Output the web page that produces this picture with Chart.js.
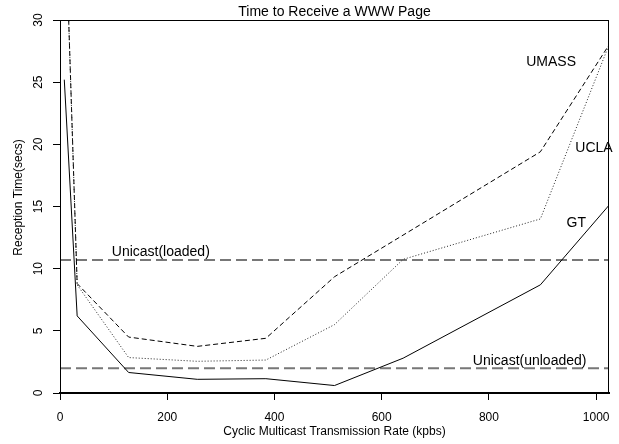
<!DOCTYPE html>
<html>
<head>
<meta charset="utf-8">
<script src="https://cdn.jsdelivr.net/npm/chart.js@4"></script>
<style>
html, body { margin: 0; padding: 0; background: white; }
canvas { display: block; }
</style>
</head>
<body>
<canvas id="c_www" width="619" height="444"></canvas>
<script>
// transmission rates (kbps) where each site was measured
const rates = [8, 32, 128, 256, 384, 512, 640, 896, 1024];
const gt = [25.2, 6.2, 1.65, 1.1, 1.15, 0.6, 2.8, 8.7, 15.1];
const ucla = [41, 8.7, 2.85, 2.55, 2.65, 5.5, 10.75, 14.0, 28.0];
const umass = [41, 8.8, 4.5, 3.75, 4.4, 9.35, null, 19.4, 28.0];
const unicastLoaded = 10.7;
const unicastUnloaded = 2.0;
const xTicks = [0, 200, 400, 600, 800, 1000];
const yTicks = [0, 5, 10, 15, 20, 25, 30];

// text written inside the plot, in data units
const notes = [
    { text: 'Unicast(loaded)', x: 188, y: 11.35 },
    { text: 'Unicast(unloaded)', x: 876, y: 2.6 },
    { text: 'UMASS', x: 916, y: 26.6 },
    { text: 'UCLA', x: 996, y: 19.7 },
    { text: 'GT', x: 963, y: 13.65 }
];

const FONT = '"Liberation Sans", Arial, sans-serif';

function pts(ys) {
    const out = [];
    rates.forEach((x, i) => { if (ys[i] !== null) out.push({ x: x, y: ys[i] }); });
    return out;
}
function flat(v) {
    return [{ x: 0, y: v }, { x: 1024, y: v }];
}

const extras = {
    id: 'extras',
    afterDraw(chart) {
        const ctx = chart.ctx;
        const a = chart.chartArea;
        const xs = chart.scales.x;
        const ys = chart.scales.y;
        ctx.save();
        ctx.strokeStyle = 'black';
        ctx.lineWidth = 1;
        ctx.strokeRect(a.left + 0.5, a.top + 0.5, a.right - a.left - 1, a.bottom - a.top);

        ctx.fillStyle = 'black';
        ctx.font = '14px ' + FONT;
        ctx.textAlign = 'center';
        ctx.textBaseline = 'alphabetic';
        ctx.fillText('Time to Receive a WWW Page', (a.left + a.right) / 2, a.top - 4);

        // y tick labels and axis title are turned like the original
        ctx.font = '12px ' + FONT;
        ctx.textBaseline = 'middle';
        yTicks.forEach(v => {
            ctx.save();
            ctx.translate(a.left - 21, ys.getPixelForValue(v));
            ctx.rotate(-Math.PI / 2);
            ctx.fillText(String(v), 0, 0);
            ctx.restore();
        });
        ctx.save();
        ctx.translate(19, (a.top + a.bottom) / 2 - 9);
        ctx.rotate(-Math.PI / 2);
        ctx.fillText('Reception Time(secs)', 0, 0);
        ctx.restore();

        ctx.font = '14px ' + FONT;
        notes.forEach(n => {
            ctx.fillText(n.text, xs.getPixelForValue(n.x), ys.getPixelForValue(n.y));
        });
        ctx.restore();
    }
};

var www_data = {
    type: 'line',
    data: {
        datasets: [
            {
                label: 'GT',
                data: pts(gt),
                borderWidth: 1,
                borderColor: 'black'
            },
            {
                label: 'UCLA',
                data: pts(ucla),
                borderWidth: 1,
                borderColor: '#222',
                borderDash: [1, 2]
            },
            {
                label: 'UMASS',
                data: pts(umass),
                borderWidth: 1,
                borderColor: 'black',
                borderDash: [5, 3]
            },
            {
                label: 'Unicast(loaded)',
                data: flat(unicastLoaded),
                borderWidth: 2,
                borderColor: '#777',
                borderDash: [11, 5]
            },
            {
                label: 'Unicast(unloaded)',
                data: flat(unicastUnloaded),
                borderWidth: 2,
                borderColor: '#777',
                borderDash: [11, 5]
            }
        ]
    },
    options: {
        responsive: false,
        animation: false,
        layout: {
            padding: { top: 20, right: 10, left: 0, bottom: 0 }
        },
        elements: {
            point: { radius: 0 },
            line: { tension: 0 }
        },
        plugins: {
            legend: { display: false },
            tooltip: { enabled: false }
        },
        scales: {
            x: {
                type: 'linear',
                min: 0,
                max: 1024,
                afterBuildTicks: (scale) => {
                    scale.ticks = xTicks.map(v => ({ value: v }));
                },
                afterFit: (scale) => {
                    scale.height = 51;
                    scale.paddingLeft = 0;
                    scale.paddingRight = 0;
                },
                grid: { drawOnChartArea: false, drawTicks: true, tickLength: 7, color: 'black' },
                border: { display: true, color: 'black', width: 2 },
                ticks: {
                    color: 'black',
                    padding: 10,
                    maxRotation: 0,
                    callback: (value) => String(value),
                    font: { family: FONT, size: 12 }
                },
                title: {
                    display: true,
                    text: 'Cyclic Multicast Transmission Rate (kpbs)',
                    color: 'black',
                    font: { family: FONT, size: 12 },
                    padding: { top: 0, bottom: 5 }
                }
            },
            y: {
                type: 'linear',
                min: 0,
                max: 30,
                afterBuildTicks: (scale) => {
                    scale.ticks = yTicks.map(v => ({ value: v }));
                },
                afterFit: (scale) => { scale.width = 60; },
                grid: { drawOnChartArea: false, drawTicks: true, tickLength: 7, color: 'black' },
                border: { display: true, color: 'black', width: 1 },
                ticks: { display: false },
                title: { display: false }
            }
        }
    },
    plugins: [extras]
};

var chart_www = new Chart(document.getElementById('c_www'), www_data);
</script>
</body>
</html>
